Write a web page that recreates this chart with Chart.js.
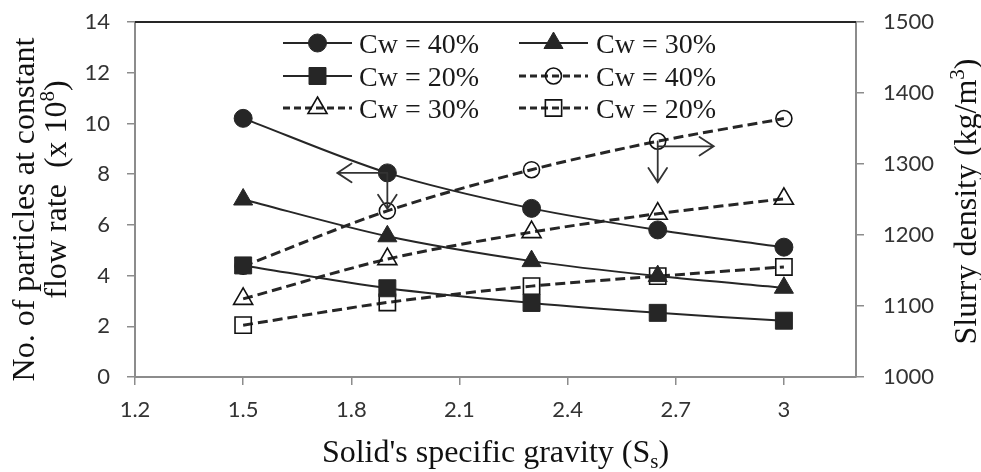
<!DOCTYPE html>
<html>
<head>
<meta charset="utf-8">
<script src="https://cdn.jsdelivr.net/npm/chart.js@4/dist/chart.umd.min.js"></script>
<style>
  html, body { margin: 0; padding: 0; background: #fff; }
  #c { display: block; }
</style>
</head>
<body>
<canvas id="c" width="981" height="472"></canvas>
<script>
// Solid's specific gravity (x values shared by every series)
const specificGravity = [1.5, 1.9, 2.3, 2.65, 3.0];

// Number of particles at constant flow rate (x 10^8), left axis
const particles40 = [10.2, 8.05, 6.65, 5.8, 5.12];
const particles30 = [7.0, 5.55, 4.57, 3.98, 3.52];
const particles20 = [4.4, 3.5, 2.92, 2.53, 2.22];

// Slurry density (kg/m3), right axis
const density40 = [1156, 1234, 1292, 1332, 1364];
const density30 = [1110, 1166, 1204, 1230, 1251];
const density20 = [1073, 1105, 1128, 1142, 1155];

// Tick labels
const xTickValues = [1.2, 1.5, 1.8, 2.1, 2.4, 2.7, 3];
const leftTickValues = [0, 2, 4, 6, 8, 10, 12, 14];
const rightTickValues = [1000, 1100, 1200, 1300, 1400, 1500];

// Legend labels, in dataset order
const seriesLabels = ['Cw = 40%', 'Cw = 30%', 'Cw = 20%', 'Cw = 40%', 'Cw = 30%', 'Cw = 20%'];

const INK = '#262626';
const SERIF = '"Liberation Serif", "Times New Roman", serif';
const SANS = 'Lato, "Open Sans", sans-serif';

const toPoints = arr => specificGravity.map((x, i) => ({ x, y: arr[i] }));

function solidSeries(label, values, pointStyle, radius) {
  return {
    label, data: toPoints(values), yAxisID: 'y',
    borderColor: INK, borderWidth: 2, tension: 0.3,
    pointStyle, pointRadius: radius, pointHoverRadius: radius,
    pointBackgroundColor: INK, pointBorderColor: INK, pointBorderWidth: 1
  };
}
function dashedSeries(label, values, pointStyle, radius) {
  return {
    label, data: toPoints(values), yAxisID: 'y2',
    borderColor: INK, borderWidth: 3, borderDash: [10, 5], tension: 0.3,
    pointStyle, pointRadius: radius, pointHoverRadius: radius,
    pointBackgroundColor: 'rgba(255,255,255,0)', pointBorderColor: '#111', pointBorderWidth: 1.6
  };
}

const datasets = [
  solidSeries(seriesLabels[0], particles40, 'circle', 9),
  solidSeries(seriesLabels[1], particles30, 'triangle', 11),
  solidSeries(seriesLabels[2], particles20, 'rect', 12),
  dashedSeries(seriesLabels[3], density40, 'circle', 8),
  dashedSeries(seriesLabels[4], density30, 'triangle', 11),
  dashedSeries(seriesLabels[5], density20, 'rect', 11.5)
];

// marker drawing for the legend samples
function drawMarker(ctx, style, r, x, y, fill, stroke, lw) {
  ctx.save();
  ctx.beginPath();
  if (style === 'circle') {
    ctx.arc(x, y, r, 0, Math.PI * 2);
  } else if (style === 'triangle') {
    ctx.moveTo(x, y - r);
    ctx.lineTo(x + r * Math.sqrt(3) / 2, y + r / 2);
    ctx.lineTo(x - r * Math.sqrt(3) / 2, y + r / 2);
    ctx.closePath();
  } else {
    const s = r * Math.SQRT1_2;
    ctx.rect(x - s, y - s, 2 * s, 2 * s);
  }
  ctx.setLineDash([]);
  if (fill && fill !== 'rgba(255,255,255,0)') { ctx.fillStyle = fill; ctx.fill(); }
  ctx.strokeStyle = stroke; ctx.lineWidth = lw; ctx.stroke();
  ctx.restore();
}

// text with sub/superscript segments, drawn centred at (cx, baseline) with a rotation
function drawRich(ctx, segments, cx, cy, rotation, size) {
  ctx.save();
  ctx.translate(cx, cy);
  ctx.rotate(rotation);
  ctx.fillStyle = '#111';
  ctx.textBaseline = 'alphabetic';
  ctx.textAlign = 'left';
  const small = Math.round(size * 0.65);
  let total = 0;
  segments.forEach(seg => {
    ctx.font = (seg.sub || seg.sup ? small : size) + 'px ' + SERIF;
    seg.w = ctx.measureText(seg.text).width;
    total += seg.w;
  });
  let x = -total / 2;
  segments.forEach(seg => {
    ctx.font = (seg.sub || seg.sup ? small : size) + 'px ' + SERIF;
    const dy = seg.sub ? size * 0.2 : seg.sup ? -size * 0.38 : 0;
    ctx.fillText(seg.text, x, dy);
    x += seg.w;
  });
  ctx.restore();
}

function drawArrow(ctx, x0, y0, x1, y1) {
  const ang = Math.atan2(y1 - y0, x1 - x0);
  const head = 17, spread = 0.58;
  ctx.beginPath();
  ctx.moveTo(x0, y0); ctx.lineTo(x1, y1);
  ctx.moveTo(x1 - head * Math.cos(ang - spread), y1 - head * Math.sin(ang - spread));
  ctx.lineTo(x1, y1);
  ctx.lineTo(x1 - head * Math.cos(ang + spread), y1 - head * Math.sin(ang + spread));
  ctx.stroke();
}

const decorations = {
  id: 'decorations',
  afterDatasetsDraw(chart) {
    const { ctx, chartArea, scales: { x, y, y2 } } = chart;
    ctx.save();
    // top frame line
    ctx.strokeStyle = INK; ctx.lineWidth = 2; ctx.setLineDash([]);
    ctx.beginPath(); ctx.moveTo(chartArea.left, chartArea.top); ctx.lineTo(chartArea.right, chartArea.top); ctx.stroke();

    // arrows pointing to the axis each curve family belongs to
    ctx.strokeStyle = '#333'; ctx.lineWidth = 1.8; ctx.lineCap = 'round';
    const ax = x.getPixelForValue(specificGravity[1]);
    const ay = y.getPixelForValue(particles40[1]);
    drawArrow(ctx, ax, ay, ax - 50, ay);
    drawArrow(ctx, ax, ay, ax, ay + 36);
    const bx = x.getPixelForValue(specificGravity[3]);
    const by = y2.getPixelForValue(density40[3]);
    drawArrow(ctx, bx, by + 5, bx + 56, by + 5);
    drawArrow(ctx, bx, by, bx, by + 41);
    ctx.restore();
  },
  afterDraw(chart) {
    const { ctx, chartArea } = chart;
    // legend: two columns, three rows
    const colSample = [283, 519], colText = [359, 596], rowY = [43, 76, 108];
    chart.data.datasets.forEach((ds, i) => {
      const row = Math.floor(i / 2), col = i % 2;
      const x0 = colSample[col], yy = rowY[row];
      ctx.save();
      ctx.strokeStyle = ds.borderColor;
      ctx.lineWidth = ds.borderDash ? 3 : 2;
      ctx.setLineDash(ds.borderDash ? [7, 4] : []);
      ctx.beginPath(); ctx.moveTo(x0, yy); ctx.lineTo(x0 + 69, yy); ctx.stroke();
      ctx.restore();
      drawMarker(ctx, ds.pointStyle, ds.pointRadius, x0 + 34.5, yy,
        ds.pointBackgroundColor, ds.pointBorderColor, ds.pointBorderWidth);
      ctx.save();
      ctx.font = '28px ' + SERIF;
      ctx.fillStyle = '#1a1a1a';
      ctx.textBaseline = 'alphabetic';
      ctx.fillText(ds.label, colText[col], yy + 10);
      ctx.restore();
    });

    // axis titles
    const midY = (chartArea.top + chartArea.bottom) / 2;
    const midX = (chartArea.left + chartArea.right) / 2;
    drawRich(ctx, [{ text: 'No. of particles at constant' }], 34, midY + 10, -Math.PI / 2, 32);
    drawRich(ctx, [{ text: 'flow rate  (x 10' }, { text: '8', sup: true }, { text: ')' }], 66, midY - 10, -Math.PI / 2, 32);
    drawRich(ctx, [{ text: "Solid's specific gravity (S" }, { text: 's', sub: true }, { text: ')' }], midX, 462, 0, 32);
    drawRich(ctx, [{ text: 'Slurry density (kg/m' }, { text: '3', sup: true }, { text: ')' }], 976, midY + 2, -Math.PI / 2, 32);
  }
};

const axisGrid = { drawOnChartArea: false, drawTicks: true, tickLength: 8, color: '#8c8c8c', lineWidth: 1.5 };
const axisBorder = { display: true, color: '#8c8c8c', width: 2 };
const tickFont = { family: SANS, size: 22 };

// fixed axis box sizes so the plot area keeps its place
function fixVertical(width) {
  return s => { s.width = width; s.paddingTop = 0; s.paddingBottom = 0; };
}

new Chart(document.getElementById('c'), {
  type: 'line',
  data: { datasets },
  options: {
    responsive: false,
    animation: false,
    layout: { padding: { top: 22, right: 0, bottom: 0, left: 0 } },
    plugins: { legend: { display: false }, tooltip: { enabled: false } },
    scales: {
      x: {
        type: 'linear', min: 1.2, max: 3.2,
        afterBuildTicks: s => { s.ticks = xTickValues.map(v => ({ value: v })); },
        afterFit: s => { s.height = 95; s.paddingLeft = 0; s.paddingRight = 0; },
        grid: axisGrid, border: axisBorder,
        ticks: { font: tickFont, color: '#333', padding: 12, maxRotation: 0, autoSkip: false, callback: v => String(v) }
      },
      y: {
        position: 'left', min: 0, max: 14,
        afterBuildTicks: s => { s.ticks = leftTickValues.map(v => ({ value: v })); },
        afterFit: fixVertical(135),
        grid: axisGrid, border: axisBorder,
        ticks: { font: tickFont, color: '#333', padding: 17, callback: v => String(v) }
      },
      y2: {
        position: 'right', min: 1000, max: 1500,
        afterBuildTicks: s => { s.ticks = rightTickValues.map(v => ({ value: v })); },
        afterFit: fixVertical(125),
        grid: axisGrid, border: axisBorder,
        ticks: { font: tickFont, color: '#333', padding: 19, callback: v => String(v) }
      }
    }
  },
  plugins: [decorations]
});
</script>
</body>
</html>
